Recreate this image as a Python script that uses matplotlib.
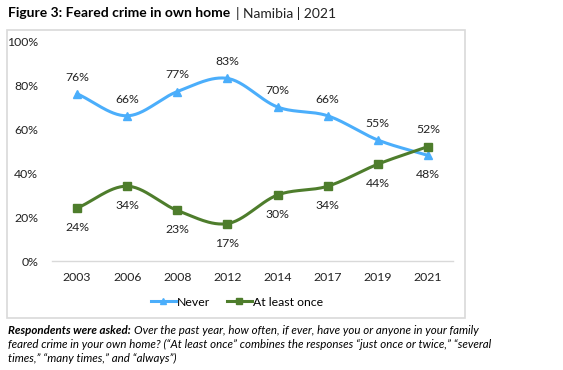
import numpy as np
import matplotlib.pyplot as plt
from matplotlib.patches import Rectangle
from matplotlib.lines import Line2D

plt.rcParams['font.family'] = ['Lato', 'DejaVu Sans']

years = ['2003', '2006', '2008', '2012', '2014', '2017', '2019', '2021']
never = [76, 66, 77, 83, 70, 66, 55, 48]
at_least_once = [24, 34, 23, 17, 30, 34, 44, 52]

BLUE = '#4baefb'
GREEN = '#4e7d2c'


def smooth(x, y, n=30):
    # catmull-rom, close to excel's smoothed line
    x = np.asarray(x, float)
    y = np.asarray(y, float)
    px = np.concatenate([[2 * x[0] - x[1]], x, [2 * x[-1] - x[-2]]])
    py = np.concatenate([[2 * y[0] - y[1]], y, [2 * y[-1] - y[-2]]])
    xs, ys = [], []
    t = np.linspace(0, 1, n)
    for i in range(1, len(px) - 2):
        for p, out in ((px, xs), (py, ys)):
            p0, p1, p2, p3 = p[i - 1], p[i], p[i + 1], p[i + 2]
            out.extend(0.5 * ((2 * p1) + (-p0 + p2) * t
                              + (2 * p0 - 5 * p1 + 4 * p2 - p3) * t ** 2
                              + (-p0 + 3 * p1 - 3 * p2 + p3) * t ** 3))
    return np.array(xs), np.array(ys)


fig = plt.figure(figsize=(5.63, 3.70), dpi=100)
ax = fig.add_axes([52 / 563, 1 - 261 / 370, 401 / 563, 220 / 370])

fig.patches.append(Rectangle((7 / 563, 1 - 318 / 370), 458 / 563, 288 / 370,
                             transform=fig.transFigure, fill=False,
                             edgecolor='#d9d9d9', linewidth=1.2))

x = np.arange(len(years))
for vals, col, mk, ms in ((never, BLUE, '^', 6), (at_least_once, GREEN, 's', 6)):
    sx, sy = smooth(x, vals)
    ax.plot(sx, sy, color=col, linewidth=2.2, solid_capstyle='round')
    ax.plot(x, vals, linestyle='none', marker=mk, markersize=ms, color=col)

for i, (a, b) in enumerate(zip(never, at_least_once)):
    up, down = 12, -14
    na, nb = (up, down) if a >= b else (down, up)
    ax.annotate(f'{a}%', (i, a), xytext=(0, na), textcoords='offset points',
                ha='center', va='center', fontsize=8.8, color='#222222')
    ax.annotate(f'{b}%', (i, b), xytext=(0, nb), textcoords='offset points',
                ha='center', va='center', fontsize=8.8, color='#222222')

ax.set_xlim(-0.5, len(years) - 0.5)
ax.set_ylim(0, 100)
ax.set_xticks(x)
ax.set_xticklabels(years)
ax.set_yticks(range(0, 101, 20))
ax.set_yticklabels([f'{v}%' for v in range(0, 101, 20)])
ax.tick_params(length=0, labelsize=8.8, colors='#222222', pad=8)
ax.tick_params(axis='y', pad=10)
for s in ('top', 'right', 'left'):
    ax.spines[s].set_visible(False)
ax.spines['bottom'].set_color('#d9d9d9')
ax.spines['bottom'].set_linewidth(1)

handles = [Line2D([], [], color=BLUE, marker='^', linewidth=2.2, markersize=5),
           Line2D([], [], color=GREEN, marker='s', linewidth=2.2, markersize=5)]
fig.legend(handles, ['Never', 'At least once'], loc='center',
           bbox_to_anchor=(237 / 563, 1 - 302 / 370), ncol=2, frameon=False,
           fontsize=8.8, handlelength=2.0, handletextpad=0.1, columnspacing=1.4)

# title
t1 = fig.text(8 / 563, 1 - 13 / 370, 'Figure 3: Feared crime in own home',
              fontsize=10, fontweight='bold', va='center', ha='left')
fig.canvas.draw()
bb = t1.get_window_extent().transformed(fig.transFigure.inverted())
fig.text(bb.x1 + 6 / 563, 1 - 13 / 370, '| Namibia | 2021', fontsize=10,
         va='center', ha='left', color='#222222')

# footnote
fs = 8.3
f1 = fig.text(8 / 563, 1 - 330 / 370, 'Respondents were asked:', fontsize=fs,
              fontweight='bold', fontstyle='italic', va='center', ha='left')
fig.canvas.draw()
bb = f1.get_window_extent().transformed(fig.transFigure.inverted())
fig.text(bb.x1 + 3 / 563, 1 - 330 / 370,
         'Over the past year, how often, if ever, have you or anyone in your family',
         fontsize=fs, fontstyle='italic', va='center', ha='left')
fig.text(8 / 563, 1 - 344 / 370,
         'feared crime in your own home? (\u201cAt least once\u201d combines the responses '
         '\u201cjust once or twice,\u201d \u201cseveral',
         fontsize=fs, fontstyle='italic', va='center', ha='left')
fig.text(8 / 563, 1 - 358 / 370,
         'times,\u201d \u201cmany times,\u201d and \u201calways\u201d)',
         fontsize=fs, fontstyle='italic', va='center', ha='left')

fig.savefig('out.png', dpi=100)
